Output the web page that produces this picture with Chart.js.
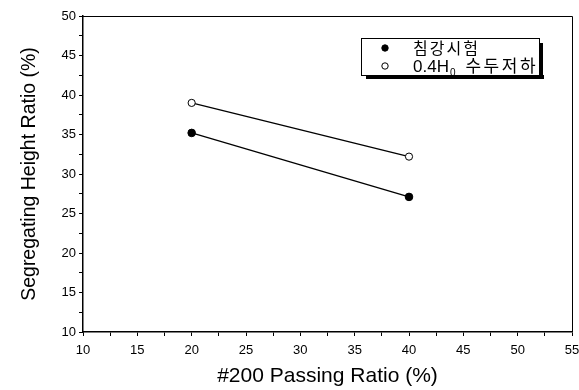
<!DOCTYPE html>
<html>
<head>
<meta charset="utf-8">
<script src="https://cdn.jsdelivr.net/npm/chart.js@4.4.1/dist/chart.umd.min.js"></script>
<style>
  html, body { margin: 0; padding: 0; background: #fff; }
  #wrap { width: 579px; height: 390px; position: relative; }
</style>
</head>
<body>
<div id="wrap"><canvas id="chart"></canvas></div>
<script>
//========================== DATA ==========================//
const passingRatio = [20, 40];
const settlingTest = [35.2, 27.1];   // 침강시험
const headDrop = [39.0, 32.2];       // 0.4H0 수두저하
const xTicks = { min: 10, max: 55, step: 5 };
const yTicks = { min: 10, max: 50, step: 5 };

const FONT = "'Liberation Sans', Arial, sans-serif";
const KFONT = "'Noto Sans CJK KR', 'Liberation Sans', sans-serif";

function toPoints(xs, ys){
    return xs.map((x, i) => ({ x: x, y: ys[i] }));
}

//======================= FRAME + LEGEND ====================//
const framePlugin = {
    id: 'frame',
    afterDraw(chart){
        const ctx = chart.ctx;
        const a = chart.chartArea;
        ctx.save();
        ctx.strokeStyle = '#000';
        ctx.lineWidth = 1;
        ctx.beginPath();
        ctx.moveTo(a.left, a.top + 0.5);
        ctx.lineTo(a.right + 0.5, a.top + 0.5);
        ctx.lineTo(a.right + 0.5, a.bottom);
        ctx.stroke();
        ctx.restore();
    }
};

const legendPlugin = {
    id: 'boxLegend',
    afterDraw(chart){
        const ctx = chart.ctx;
        const bx = 361, by = 38, bw = 178, bh = 37;
        ctx.save();
        // drop shadow
        ctx.fillStyle = '#000';
        ctx.fillRect(bx + 5, by + bh, bw, 4);
        ctx.fillRect(bx + bw, by + 5, 4, bh - 1);
        ctx.fillStyle = '#fff';
        ctx.fillRect(bx, by, bw, bh);
        ctx.strokeStyle = '#000';
        ctx.lineWidth = 1;
        ctx.strokeRect(bx + 0.5, by + 0.5, bw, bh);

        const rows = [by + 10, by + 28];
        chart.data.datasets.forEach((ds, i) => {
            const y = rows[i];
            ctx.beginPath();
            ctx.arc(bx + 24, y, 3.2, 0, Math.PI * 2);
            ctx.fillStyle = ds.pointBackgroundColor;
            ctx.fill();
            ctx.strokeStyle = ds.pointBorderColor;
            ctx.lineWidth = 1;
            ctx.stroke();
        });

        ctx.fillStyle = '#000';
        ctx.textBaseline = 'middle';
        ctx.textAlign = 'left';
        let tx = bx + 52;
        ctx.font = '16px ' + KFONT;
        ctx.letterSpacing = '2px';
        ctx.fillText('침강시험', tx, rows[0]);
        ctx.letterSpacing = '0px';

        ctx.font = '17px ' + FONT;
        ctx.fillText('0.4H', tx, rows[1] + 1);
        tx += ctx.measureText('0.4H').width;
        ctx.font = '10px ' + FONT;
        ctx.fillText('0', tx + 1, rows[1] + 7);
        tx += ctx.measureText('0').width + 11;
        ctx.font = '17px ' + KFONT;
        ctx.letterSpacing = '2.5px';
        ctx.fillText('수두저하', tx, rows[1]);
        ctx.restore();
    }
};

//========================= CHART ===========================//
const ctx = document.getElementById('chart').getContext('2d');
const chart = new Chart(ctx, {
    type: 'scatter',
    data: {
        datasets: [{
            label: '침강시험',
            data: toPoints(passingRatio, settlingTest),
            showLine: true,
            borderColor: '#000',
            borderWidth: 1.3,
            pointRadius: 3.8,
            pointBackgroundColor: '#000',
            pointBorderColor: '#000',
            pointBorderWidth: 1
        }, {
            label: '0.4H0 수두저하',
            data: toPoints(passingRatio, headDrop),
            showLine: true,
            borderColor: '#000',
            borderWidth: 1.3,
            pointRadius: 3.6,
            pointBackgroundColor: '#fff',
            pointBorderColor: '#000',
            pointBorderWidth: 1
        }]
    },
    options: {
        responsive: true,
        maintainAspectRatio: false,
        animation: false,
        layout: { padding: { top: 16, right: 7, left: 0, bottom: 0 } },
        plugins: {
            legend: { display: false },
            tooltip: { enabled: false }
        },
        scales: {
            x: {
                type: 'linear',
                min: xTicks.min,
                max: xTicks.max,
                afterFit(scale){
                    scale.height = 58;
                    scale.paddingLeft = 0;
                    scale.paddingRight = 0;
                },
                border: { display: true, color: '#000', width: 1.5 },
                grid: { drawOnChartArea: false, drawTicks: true, tickLength: 4, color: '#000' },
                ticks: {
                    stepSize: xTicks.step / 2,
                    autoSkip: false,
                    maxRotation: 0,
                    padding: 7,
                    color: '#000',
                    font: { family: FONT, size: 13 },
                    callback: v => (v % xTicks.step === 0 ? v : '')
                },
                title: {
                    display: true,
                    text: '#200 Passing Ratio (%)',
                    color: '#000',
                    font: { family: FONT, size: 21 },
                    padding: { top: 0, bottom: 1 }
                }
            },
            y: {
                type: 'linear',
                min: yTicks.min,
                max: yTicks.max,
                afterFit(scale){
                    scale.width = 83;
                    scale.paddingTop = 0;
                    scale.paddingBottom = 0;
                },
                border: { display: true, color: '#000', width: 1.5 },
                grid: { drawOnChartArea: false, drawTicks: true, tickLength: 4, color: '#000' },
                ticks: {
                    stepSize: yTicks.step / 2,
                    autoSkip: false,
                    padding: 3,
                    color: '#000',
                    font: { family: FONT, size: 13 },
                    callback: v => (v % yTicks.step === 0 ? v : '')
                },
                title: {
                    display: true,
                    text: 'Segregating Height Ratio (%)',
                    color: '#000',
                    font: { family: FONT, size: 19.5 },
                    padding: { top: 18, bottom: 0 }
                }
            }
        }
    },
    plugins: [framePlugin, legendPlugin]
});
</script>
</body>
</html>
